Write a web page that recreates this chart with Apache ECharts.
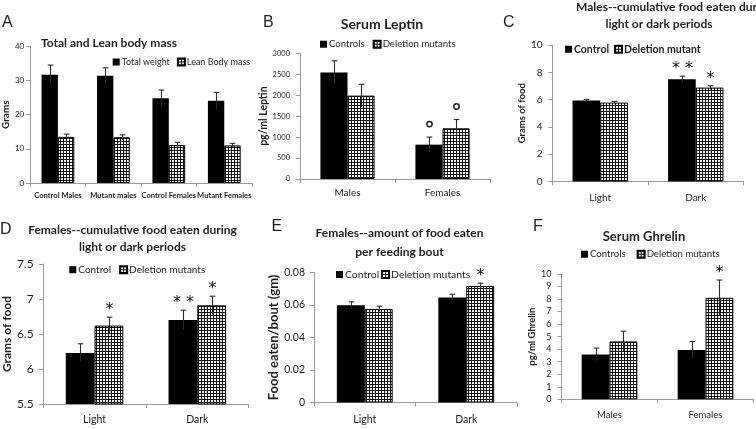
<!DOCTYPE html>
<html><head><meta charset="utf-8">
<script src="https://cdn.jsdelivr.net/npm/echarts@6/dist/echarts.min.js"></script>
<style>html,body{margin:0;padding:0;background:#fff}#c{width:756px;height:429px}</style>
</head><body><div id="c"></div>
<script>
// ---------- Panel A: Total and Lean body mass ----------
const aCategories = ['Control Males', 'Mutant males', 'Control Females', 'Mutant Females'];
const aSeriesNames = ['Total weight', 'Lean Body mass'];
const aTotal = [31.7, 31.4, 24.8, 24.1];
const aTotalErr = [2.8, 2.3, 2.4, 2.4];
const aLean = [13.5, 13.4, 11.1, 11.0];
const aLeanErr = [0.8, 0.7, 0.8, 0.6];
const aTotalMarks = ['', '', '', ''];
const aLeanMarks = ['', '', '', ''];
const aYTicks = [0, 10, 20, 30, 40];

// ---------- Panel B: Serum Leptin ----------
const bCategories = ['Males', 'Females'];
const bSeriesNames = ['Controls', 'Deletion mutants'];
const bControl = [2540, 820];
const bControlErr = [280, 180];
const bMutant = [1990, 1210];
const bMutantErr = [270, 210];
const bControlMarks = ['', 'o'];
const bMutantMarks = ['', 'o'];
const bYTicks = [0, 500, 1000, 1500, 2000, 2500, 3000];

// ---------- Panel C: Males cumulative food ----------
const cCategories = ['Light', 'Dark'];
const cSeriesNames = ['Control', 'Deletion mutant'];
const cControl = [5.93, 7.5];
const cControlErr = [0.08, 0.22];
const cMutant = [5.78, 6.88];
const cMutantErr = [0.08, 0.14];
const cControlMarks = ['', '**'];
const cMutantMarks = ['', '*'];
const cYTicks = [0, 2, 4, 6, 8, 10];

// ---------- Panel D: Females cumulative food ----------
const dCategories = ['Light', 'Dark'];
const dSeriesNames = ['Control', 'Deletion mutants'];
const dControl = [6.23, 6.70];
const dControlErr = [0.13, 0.14];
const dMutant = [6.62, 6.91];
const dMutantErr = [0.12, 0.13];
const dControlMarks = ['', '**'];
const dMutantMarks = ['*', '*'];
const dYTicks = [5.5, 6, 6.5, 7, 7.5];

// ---------- Panel E: Females food per bout ----------
const eCategories = ['Light', 'Dark'];
const eSeriesNames = ['Control', 'Deletion mutants'];
const eControl = [0.0598, 0.0645];
const eControlErr = [0.002, 0.002];
const eMutant = [0.0575, 0.0716];
const eMutantErr = [0.0017, 0.0017];
const eControlMarks = ['', ''];
const eMutantMarks = ['', '*'];
const eYTicks = [0, 0.02, 0.04, 0.06, 0.08];

// ---------- Panel F: Serum Ghrelin ----------
const fCategories = ['Males', 'Females'];
const fSeriesNames = ['Controls', 'Deletion mutants'];
const fControl = [3.57, 3.94];
const fControlErr = [0.52, 0.68];
const fMutant = [4.62, 8.1];
const fMutantErr = [0.82, 1.42];
const fControlMarks = ['', ''];
const fMutantMarks = ['', '*'];
const fYTicks = [0, 1, 2, 3, 4, 5, 6, 7, 8, 9, 10];

// ---------- styling ----------
const FF = 'Lato, "Noto Sans", sans-serif';
const TXT = '#1e1e1e';
const AX = '#9a9a9a';
const ERR = '#2a2a2a';

const hatch = (function () {
  const c = document.createElement('canvas');
  c.width = 3; c.height = 3;
  const g = c.getContext('2d');
  g.fillStyle = '#ffffff'; g.fillRect(0, 0, 3, 3);
  g.fillStyle = '#111111'; g.fillRect(0, 0, 3, 1); g.fillRect(0, 0, 1, 3);
  return c;
})();
const hatchFill = { image: hatch, repeat: 'repeat' };

const panels = [
  { cats: aCategories, names: aSeriesNames, vals: [aTotal, aLean], errs: [aTotalErr, aLeanErr], marks: [aTotalMarks, aLeanMarks], ticks: aYTicks, yName: 'Grams',
    grid: { left: 29, top: 46.3, width: 223, height: 136.7 }, gap: 0.41,
    yl: { size: 8, margin: 6 }, yn: { size: 10, gap: 19 }, xl: { size: 7.6, weight: 'bold', margin: 9 },
    lg: { left: 112.7, cy: 63, size: 9, weight: 'normal', gap: 7 } },
  { cats: bCategories, names: bSeriesNames, vals: [bControl, bMutant], errs: [bControlErr, bMutantErr], marks: [bControlMarks, bMutantMarks], ticks: bYTicks, yName: 'pg/ml Leptin',
    grid: { left: 300, top: 53.3, width: 190, height: 125.7 }, gap: 0.43,
    yl: { size: 7.5, margin: 10 }, yn: { size: 10.5, gap: 28 }, xl: { size: 10, weight: 'normal', margin: 9 },
    lg: { left: 320, cy: 45, size: 9.6, weight: 'normal', gap: 8 } },
  { cats: cCategories, names: cSeriesNames, vals: [cControl, cMutant], errs: [cControlErr, cMutantErr], marks: [cControlMarks, cMutantMarks], ticks: cYTicks, yName: 'Grams of food',
    grid: { left: 552.5, top: 45, width: 191, height: 136.5 }, gap: 0.42,
    yl: { size: 10, margin: 10 }, yn: { size: 9.5, gap: 26 }, xl: { size: 10, weight: 'normal', margin: 11 },
    lg: { left: 565, cy: 50, size: 10.5, weight: 'bold', gap: 5 } },
  { cats: dCategories, names: dSeriesNames, vals: [dControl, dMutant], errs: [dControlErr, dMutantErr], marks: [dControlMarks, dMutantMarks], ticks: dYTicks, yName: 'Grams of food',
    grid: { left: 42.7, top: 264, width: 206, height: 140 }, gap: 0.44,
    yl: { size: 12, margin: 9.5 }, yn: { size: 12, gap: 26 }, xl: { size: 10.5, weight: 'normal', margin: 10 },
    lg: { left: 69.3, cy: 270.7, size: 10, weight: 'normal', gap: 8 } },
  { cats: eCategories, names: eSeriesNames, vals: [eControl, eMutant], errs: [eControlErr, eMutantErr], marks: [eControlMarks, eMutantMarks], ticks: eYTicks, yName: 'Food eaten/bout (gm)',
    grid: { left: 314, top: 272.3, width: 203, height: 130.2 }, gap: 0.45,
    yl: { size: 10.5, margin: 9 }, yn: { size: 13, gap: 30.5 }, xl: { size: 10.5, weight: 'normal', margin: 11.5 },
    lg: { left: 336, cy: 275.7, size: 10.4, weight: 'normal', gap: 2 } },
  { cats: fCategories, names: fSeriesNames, vals: [fControl, fMutant], errs: [fControlErr, fMutantErr], marks: [fControlMarks, fMutantMarks], ticks: fYTicks, yName: 'pg/ml Ghrelin',
    grid: { left: 561.5, top: 274, width: 192, height: 125.3 }, gap: 0.42,
    yl: { size: 9, margin: 10 }, yn: { size: 9.5, gap: 23.5 }, xl: { size: 9.5, weight: 'normal', margin: 10.5 },
    lg: { left: 581, cy: 255, size: 9.6, weight: 'normal', gap: 11 } }
];

function cleanNum(v) { return String(parseFloat(Number(v).toFixed(6))); }

function makeErrRender(p) {
  return function (params, api) {
    const cat = api.value(0), val = api.value(1), err = api.value(2), side = api.value(3);
    const c = api.coord([cat, val]);
    const band = api.size([1, 0])[0];
    const bw = band * (1 - p.gap) / 2;
    const x = Math.round(c[0] + (side === 0 ? -bw / 2 : bw / 2)) + 0.5;
    const yTop = api.coord([cat, val + err])[1];
    const yBot = api.coord([cat, val - err])[1];
    const children = [
      { type: 'line', shape: { x1: x, y1: yBot, x2: x, y2: yTop }, style: { stroke: ERR, lineWidth: 1.1 } },
      { type: 'line', shape: { x1: x - 2.8, y1: yTop, x2: x + 2.8, y2: yTop }, style: { stroke: ERR, lineWidth: 1.1 } }
    ];
    const mark = p.marks[side][cat];
    if (mark === 'o') {
      children.push({ type: 'circle', shape: { cx: x, cy: yTop - 13, r: 2.7 }, style: { fill: 'none', stroke: '#222', lineWidth: 1.5 } });
    } else if (mark) {
      const t = mark.split('').join(' ');
      children.push({ type: 'text', style: { text: t, x: x, y: yTop - 7, align: 'center', verticalAlign: 'middle', textAlign: 'center', textVerticalAlign: 'middle', font: 'normal 16px "DejaVu Sans", sans-serif', fill: '#111' } });
    }
    return { type: 'group', children: children };
  };
}

const grids = [], xAxes = [], yAxes = [], series = [], legends = [];
panels.forEach(function (p, i) {
  grids.push(Object.assign({ containLabel: false }, p.grid));
  xAxes.push({
    type: 'category', gridIndex: i, data: p.cats, boundaryGap: true,
    axisLine: { show: true, lineStyle: { color: AX, width: 1 } },
    axisTick: { show: true, length: 4, interval: 0, alignWithLabel: false, lineStyle: { color: AX } },
    axisLabel: { show: true, interval: 0, color: TXT, fontFamily: FF, fontSize: p.xl.size, fontWeight: p.xl.weight, margin: p.xl.margin },
    splitLine: { show: false }
  });
  yAxes.push({
    type: 'value', gridIndex: i,
    min: p.ticks[0], max: p.ticks[p.ticks.length - 1], interval: p.ticks[1] - p.ticks[0],
    name: p.yName, nameLocation: 'middle', nameRotate: 90, nameGap: p.yn.gap,
    nameTextStyle: { fontFamily: FF, fontSize: p.yn.size, fontWeight: 'bold', color: TXT },
    axisLine: { show: true, lineStyle: { color: AX, width: 1 } },
    axisTick: { show: true, length: 4, lineStyle: { color: AX } },
    axisLabel: { show: true, color: TXT, fontFamily: FF, fontSize: p.yl.size, margin: p.yl.margin, formatter: cleanNum },
    splitLine: { show: false }
  });
  series.push({
    type: 'bar', name: p.names[0], xAxisIndex: i, yAxisIndex: i, data: p.vals[0],
    barGap: '0%', barCategoryGap: (p.gap * 100) + '%',
    itemStyle: { color: '#000000' }, silent: true
  });
  series.push({
    type: 'bar', name: p.names[1], xAxisIndex: i, yAxisIndex: i, data: p.vals[1],
    barGap: '0%', barCategoryGap: (p.gap * 100) + '%',
    itemStyle: { color: hatchFill, borderColor: '#000000', borderWidth: 1 }, silent: true
  });
  const errData = [];
  [0, 1].forEach(function (s) {
    p.vals[s].forEach(function (v, j) { errData.push([j, v, p.errs[s][j], s]); });
  });
  series.push({
    type: 'custom', xAxisIndex: i, yAxisIndex: i, clip: false, z: 5, silent: true,
    data: errData, renderItem: makeErrRender(p)
  });
  legends.push({
    data: p.names, left: p.lg.left, top: p.lg.cy - p.lg.size / 2 - 1, orient: 'horizontal',
    itemWidth: 7, itemHeight: 7, itemGap: p.lg.gap, padding: 0, icon: 'rect', selectedMode: false,
    textStyle: { fontFamily: FF, fontSize: p.lg.size, fontWeight: p.lg.weight, color: TXT, padding: [0, 0, 0, -3] }
  });
});

function txt(text, x, y, font, align) {
  return { type: 'text', x: 0, y: 0, silent: true,
    style: { text: text, x: x, y: y, font: font, fill: TXT, align: align || 'center', verticalAlign: 'middle', textAlign: align || 'center', textVerticalAlign: 'middle' } };
}
const LETTER = 'normal 16px "Liberation Sans", Arial, sans-serif';
const graphics = [
  txt('A', 2, 22.5, LETTER, 'left'),
  txt('B', 263, 23, LETTER, 'left'),
  txt('C', 503, 22.5, LETTER, 'left'),
  txt('D', 0, 230, LETTER, 'left'),
  txt('E', 271.5, 226.3, LETTER, 'left'),
  txt('F', 533, 226.7, LETTER, 'left'),
  txt('Total and Lean body mass', 109, 43, 'bold 12px ' + FF),
  txt('Serum Leptin', 382, 24, 'bold 14px ' + FF),
  txt('Males--cumulative food eaten during', 576, 7.3, 'bold 12px ' + FF, 'left'),
  txt('light or dark periods', 659, 24, 'bold 12px ' + FF),
  txt('Females--cumulative food eaten during', 132.5, 230, 'bold 12px ' + FF),
  txt('light or dark periods', 132.5, 246.7, 'bold 12px ' + FF),
  txt('Females--amount of food eaten', 399.5, 233.3, 'bold 12px ' + FF),
  txt('per feeding bout', 399.5, 251.7, 'bold 12px ' + FF),
  txt('Serum Ghrelin', 644, 237, 'bold 13px ' + FF)
];

const chart = echarts.init(document.getElementById('c'), null, { renderer: 'canvas', width: 756, height: 429 });
chart.setOption({
  animation: false,
  backgroundColor: '#ffffff',
  grid: grids, xAxis: xAxes, yAxis: yAxes, series: series, legend: legends,
  graphic: graphics
});
</script></body></html>
